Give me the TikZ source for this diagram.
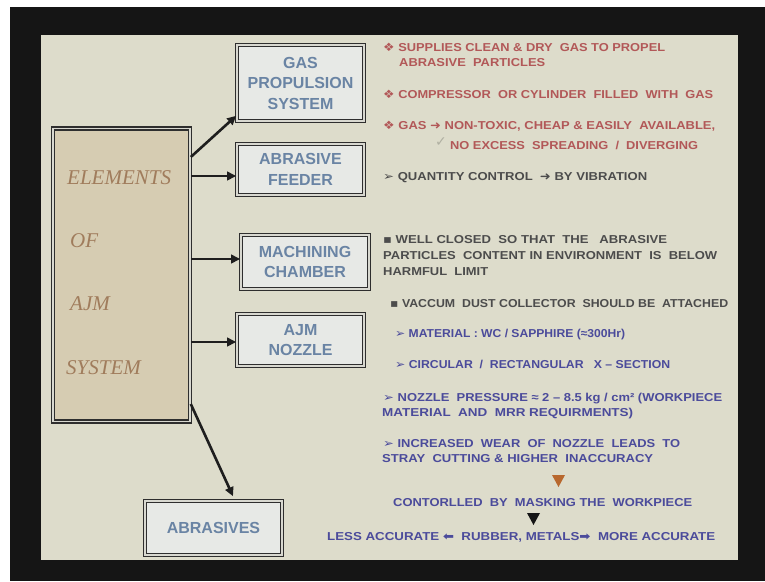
\documentclass[tikz,border=0pt]{standalone}
\usepackage{fontspec}
\usepackage{graphicx}
\setmainfont{Liberation Sans}
\newfontfamily\serifit{Liberation Serif}
\newfontfamily\symfont{DejaVu Sans}
\usetikzlibrary{arrows.meta}

\definecolor{frame}{HTML}{151515}
\definecolor{slide}{HTML}{DDDCCB}
\definecolor{parch}{HTML}{D6CCB2}
\definecolor{boxfill}{HTML}{E7E9E6}
\definecolor{boxline}{HTML}{2E2E2E}
\definecolor{boxgap}{HTML}{D8D8D0}
\definecolor{boxtext}{HTML}{6A84A4}
\definecolor{elemtext}{HTML}{A07C5C}
\definecolor{arrowc}{HTML}{1E1E1E}
\definecolor{redtxt}{HTML}{B25858}
\definecolor{greytxt}{HTML}{4C4C4C}
\definecolor{bluetxt}{HTML}{4B4B9B}
\definecolor{ticktxt}{HTML}{B0B0A2}
\definecolor{tri}{HTML}{B8682E}

% stretch a line of text horizontally to a given width (in pt)
\newcommand\fitw[2]{\resizebox{#1pt}{\height}{#2}}
\newcommand\dia{{\symfont ❖}}
\newcommand\arrowhd{{\symfont ➢}}
\newcommand\rarr{{\symfont ➜}}
\newcommand\sqb{{\symfont ▪}}

\tikzset{
  comp/.style={draw=boxline, line width=1.6pt, double=boxgap, double distance=1.4pt,
    fill=boxfill, text=boxtext, font=\fontsize{16}{20.5}\selectfont\bfseries,
    align=center, inner sep=0pt},
  bigbox/.style={draw=boxline, line width=1.6pt, double=boxgap, double distance=1.4pt,
    fill=parch, inner sep=0pt},
  elemlbl/.style={anchor=base west, inner sep=0pt, text=elemtext,
    font=\fontsize{21}{21}\selectfont\serifit\itshape},
  txt/.style={anchor=base west, inner sep=0pt, font=\fontsize{11.5}{13}\selectfont\bfseries},
  redl/.style={txt, text=redtxt},
  greyl/.style={txt, text=greytxt},
  bluel/.style={txt, text=bluetxt},
  arr/.style={draw=arrowc, line width=2.6pt, -{Triangle[length=9pt,width=8.5pt]}},
}

\begin{document}
\begin{tikzpicture}[x=1pt,y=-1pt]
\useasboundingbox (0,0) rectangle (765,581);
\fill[white] (0,0) rectangle (765,581);
\fill[frame] (10,7) rectangle (765,581);
\fill[slide] (41,35) rectangle (738,560);

% main block
\node[bigbox, minimum width=137pt, minimum height=293pt] (elem) at (121.5,275) {};
\node[elemlbl] (e1) at (67,184) {ELEMENTS};
\node[elemlbl] (e2) at (70,247) {OF};
\node[elemlbl] (e3) at (70,310) {AJM};
\node[elemlbl] (e4) at (66,374) {SYSTEM};

% component blocks
\node[comp, minimum width=127pt, minimum height=76pt] (gas) at (300.5,83) {GAS\\PROPULSION\\SYSTEM};
\node[comp, minimum width=127pt, minimum height=51pt] (feed) at (300.5,169.5) {ABRASIVE\\FEEDER};
\node[comp, minimum width=128pt, minimum height=54pt] (mach) at (305,262) {MACHINING\\CHAMBER};
\node[comp, minimum width=127pt, minimum height=52pt] (nozz) at (300.5,340) {AJM\\NOZZLE};
\node[comp, minimum width=137pt, minimum height=54pt] (abr) at (213.5,528) {ABRASIVES};

% connectors
\coordinate (s1) at (elem.east |- 0,157);
\coordinate (s2) at (elem.east |- 0,176);
\coordinate (s3) at (elem.east |- 0,259);
\coordinate (s4) at (elem.east |- 0,342);
\coordinate (s5) at (elem.east |- 0,404);
\coordinate (t5) at (abr.north -| 233,0);
\draw[arr] (s1) -- ([yshift=6pt]gas.south west);
\draw[arr] (s2) -- (feed.west |- s2);
\draw[arr] (s3) -- (mach.west |- s3);
\draw[arr] (s4) -- (nozz.west |- s4);
\draw[arr] (s5) -- ([yshift=4pt]t5);

% gas propulsion notes
\node[redl] (r1) at (383,51)  {\fitw{282}{\dia\ SUPPLIES CLEAN \& DRY \ GAS TO PROPEL}};
\node[redl] (r2) at (399,66)  {\fitw{146}{ABRASIVE \ PARTICLES}};
\node[redl] (r3) at (383,98)  {\fitw{330}{\dia\ COMPRESSOR \ OR CYLINDER \ FILLED \ WITH \ GAS}};
\node[redl] (r4) at (383,129) {\fitw{332}{\dia\ GAS \rarr\ NON-TOXIC, CHEAP \& EASILY \ AVAILABLE,}};
\node[anchor=base west, inner sep=0pt, text=ticktxt, font=\fontsize{14}{14}\selectfont\symfont] (tk) at (435,146) {✓};
\node[redl] (r5) at (450,149) {\fitw{248}{NO EXCESS \ SPREADING \ / \ DIVERGING}};

% feeder and chamber notes
\node[greyl] (q1) at (383,180) {\fitw{264}{\arrowhd\ QUANTITY CONTROL \ \rarr\ BY VIBRATION}};
\node[greyl] (q2) at (383,243) {\fitw{284}{\sqb\ WELL CLOSED \ SO THAT \ THE \ \ ABRASIVE}};
\node[greyl] (q3) at (383,259) {\fitw{334}{PARTICLES \ CONTENT IN ENVIRONMENT \ IS \ BELOW}};
\node[greyl] (q4) at (383,275) {\fitw{105}{HARMFUL \ LIMIT}};
\node[greyl] (q5) at (390,307) {\fitw{338}{\sqb\ VACCUM \ DUST COLLECTOR \ SHOULD BE \ ATTACHED}};

% nozzle notes
\node[bluel] (n1) at (395,337) {\fitw{230}{\arrowhd\ MATERIAL : WC / SAPPHIRE (≈300Hr)}};
\node[bluel] (n2) at (395,368) {\fitw{275}{\arrowhd\ CIRCULAR \ / \ RECTANGULAR \ \ X – SECTION}};
\node[bluel] (n3) at (383,401) {\fitw{339}{\arrowhd\ NOZZLE \ PRESSURE ≈ 2 – 8.5 kg / cm² (WORKPIECE}};
\node[bluel] (n4) at (382,416) {\fitw{251}{MATERIAL \ AND \ MRR REQUIRMENTS)}};
\node[bluel] (n5) at (383,447) {\fitw{297}{\arrowhd\ INCREASED \ WEAR \ OF \ NOZZLE \ LEADS \ TO}};
\node[bluel] (n6) at (382,462) {\fitw{271}{STRAY \ CUTTING \& HIGHER \ INACCURACY}};
\fill[tri] (552,475) -- (565,475) -- (558.5,487) -- cycle;
\node[bluel] (n7) at (393,506) {\fitw{299}{CONTORLLED \ BY \ MASKING THE \ WORKPIECE}};
\fill[frame] (527,513) -- (540,513) -- (533.5,525) -- cycle;
\node[bluel] (n8) at (327,540) {\fitw{388}{LESS ACCURATE {\symfont\reflectbox{➡}} \ RUBBER, METALS{\symfont ➡} \ MORE ACCURATE}};
\end{tikzpicture}
\end{document}
